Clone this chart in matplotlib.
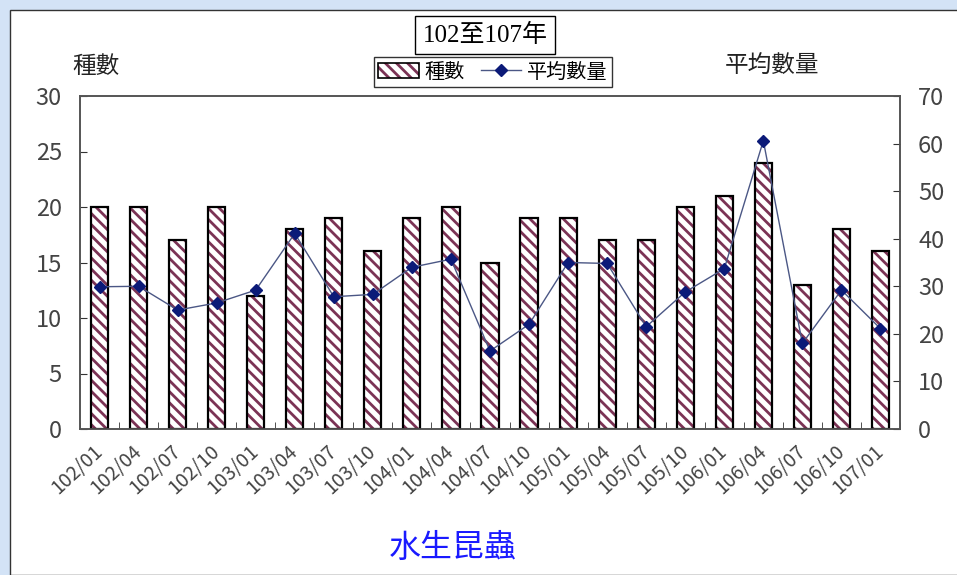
import numpy as np
import matplotlib
matplotlib.use('Agg')
import matplotlib.pyplot as plt
import matplotlib.transforms as mtransforms
from matplotlib.patches import Patch, Rectangle
from matplotlib.lines import Line2D

plt.rcParams['font.family'] = ['Liberation Sans Narrow', 'Noto Sans CJK TC', 'DejaVu Sans']
plt.rcParams['hatch.linewidth'] = 2.0

# data
periods = ['102/01', '102/04', '102/07', '102/10', '103/01', '103/04', '103/07',
           '103/10', '104/01', '104/04', '104/07', '104/10', '105/01', '105/04',
           '105/07', '105/10', '106/01', '106/04', '106/07', '106/10', '107/01']
species = [20, 20, 17, 20, 12, 18, 19, 16, 19, 20, 15, 19, 19, 17, 17, 20, 21, 24, 13, 18, 16]
avg_count = [29.9, 30.0, 25.0, 26.5, 29.2, 41.1, 27.8, 28.3, 34.0, 35.7, 16.4,
             22.0, 35.0, 34.8, 21.5, 28.8, 33.7, 60.6, 18.0, 29.2, 21.1]

bar_col = '#7b3355'
line_col = '#4b5785'
mark_col = '#0b1a78'
tick_col = '#444444'
hatch = '\\\\\\'

fig = plt.figure(figsize=(9.57, 5.75), dpi=100)
fig.patch.set_facecolor('#d3e3f6')
panel = Rectangle((10/957, 0), 1, 1 - 10/575, transform=fig.transFigure,
                  facecolor='white', edgecolor='#333333', lw=1, zorder=-10)
fig.add_artist(panel)

ax = fig.add_axes([80/957, (575-429)/575, 820/957, 333/575])
ax.set_facecolor('white')
x = np.arange(len(periods))
ax.bar(x, species, width=0.44, color='white', edgecolor=bar_col, hatch=hatch, lw=0, zorder=2)
ax.bar(x, species, width=0.44, fill=False, edgecolor='black', lw=1.6, zorder=3)
ax.set_xlim(-0.5, len(periods) - 0.5)
ax.set_ylim(0, 30)
ax.set_yticks(range(0, 31, 5))
ax.set_xticks(x)
ax.set_xticklabels(periods, rotation=43, ha='right', va='center', rotation_mode='anchor',
                   fontsize=14, color=tick_col)
shift = mtransforms.ScaledTranslation(5/100, 0, fig.dpi_scale_trans)
for lab in ax.get_xticklabels():
    lab.set_transform(lab.get_transform() + shift)
ax.set_xticks(np.arange(-0.5, len(periods), 1), minor=True)
ax.tick_params(axis='x', which='major', length=0, pad=14)
ax.tick_params(axis='x', which='minor', direction='in', length=5, color='#333333')
ax.tick_params(axis='y', direction='in', length=5, pad=13, labelsize=17, labelcolor=tick_col,
               color='#333333')
for s in ax.spines.values():
    s.set_color('#555555')
    s.set_linewidth(1.2)

ax2 = ax.twinx()
ax2.plot(x, avg_count, color=line_col, lw=1, marker='D', ms=6, mfc=mark_col, mec=mark_col, zorder=4)
ax2.set_ylim(0, 70)
ax2.set_yticks(range(0, 71, 10))
ax2.tick_params(axis='y', direction='in', length=5, pad=13, labelsize=17, labelcolor=tick_col,
                color='#333333')
for s in ax2.spines.values():
    s.set_color('#555555')
    s.set_linewidth(1.2)

fig.text(96/957, 1 - 66/575, '種數', fontsize=17, ha='center', va='center', color='#222222')
fig.text(772/957, 1 - 66/575, '平均數量', fontsize=17, ha='center', va='center', color='#222222')
fig.text(485/957, 1 - 35/575, '102至107年', fontsize=18, ha='center', va='center',
         family=['Liberation Serif', 'Noto Sans CJK TC'],
         bbox=dict(boxstyle='square,pad=0.3', facecolor='white', edgecolor='black', lw=1))
fig.text(453/957, 1 - 548/575, '水生昆蟲', fontsize=23, ha='center', va='center', color='#1a1aff')

handles = [(Patch(facecolor='white', edgecolor=bar_col, hatch=hatch, lw=0),
            Patch(fill=False, edgecolor='black', lw=1.2)),
           Line2D([], [], color=line_col, lw=1, marker='D', ms=6, mfc=mark_col, mec=mark_col)]
leg = fig.legend(handles, ['種數', '平均數量'], loc='center', bbox_to_anchor=(493/957, 1 - 72/575),
                 ncol=2, frameon=True, fancybox=False, edgecolor='black', fontsize=14.5,
                 handlelength=2.0, handletextpad=0.3, columnspacing=0.8, borderpad=0.2,
                 borderaxespad=0)
leg.get_frame().set_linewidth(1)

fig.savefig('out.png', dpi=100, facecolor=fig.get_facecolor())
